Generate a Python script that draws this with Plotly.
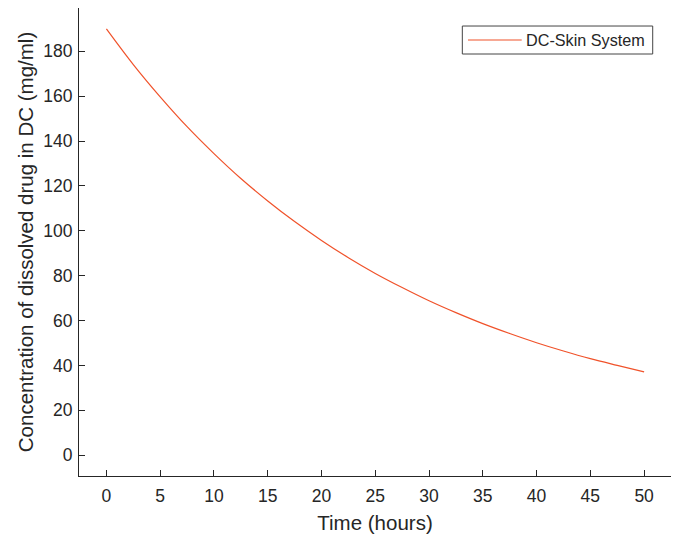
import plotly.graph_objects as go

# Concentration of dissolved drug in the DC over time
time_hours = [0, 2.5, 5, 7.5, 10, 12.5, 15, 17.5, 20, 22.5, 25,
              27.5, 30, 32.5, 35, 37.5, 40, 42.5, 45, 47.5, 50]
concentration = [190.0, 174.1, 159.7, 146.4, 134.4, 123.3, 113.3, 104.1, 95.7, 88.0, 81.0,
                 74.7, 68.8, 63.5, 58.6, 54.2, 50.1, 46.4, 43.0, 40.0, 37.1]
series_name = "DC-Skin System"

x_ticks = [0, 5, 10, 15, 20, 25, 30, 35, 40, 45, 50]
y_ticks = [0, 20, 40, 60, 80, 100, 120, 140, 160, 180]

axis_color = "#262626"
line_color = "#F0522A"
font_family = "Liberation Sans, Arial, Helvetica, sans-serif"

fig = go.Figure()
fig.add_trace(go.Scatter(
    x=time_hours, y=concentration,
    mode="lines", line=dict(color=line_color, width=1.2, shape="spline"),
    name=series_name, showlegend=False,
))

axis_common = dict(
    showline=True, linecolor=axis_color, linewidth=1,
    ticks="inside", ticklen=6, tickcolor=axis_color, tickwidth=1,
    showgrid=False, zeroline=False, mirror=False,
    tickfont=dict(family=font_family, size=17.5, color=axis_color),
)

# Boxed legend in the upper right corner, with a long sample line
legend_box = dict(x0=0.6475, x1=0.9691, y0=0.9017, y1=0.9615)
legend_line = dict(x0=0.6571, x1=0.7478, y=0.9316)

fig.update_layout(
    width=686, height=537,
    margin=dict(l=79, r=15, t=8, b=61),
    paper_bgcolor="white", plot_bgcolor="white",
    font=dict(family=font_family, color=axis_color),
    xaxis=dict(range=[-2.55, 52.5], tickvals=x_ticks, ticklabelstandoff=4,
               title=dict(text="Time (hours)", font=dict(size=20.5), standoff=10),
               **axis_common),
    yaxis=dict(range=[-9.3, 199.3], tickvals=y_ticks, ticklabelstandoff=2,
               title=dict(text="Concentration of dissolved drug in DC (mg/ml)",
                          font=dict(size=20.5), standoff=4),
               **axis_common),
    showlegend=False,
    shapes=[
        dict(type="rect", xref="paper", yref="paper",
             x0=legend_box["x0"], x1=legend_box["x1"],
             y0=legend_box["y0"], y1=legend_box["y1"],
             line=dict(color="#444444", width=1), fillcolor="white", layer="above"),
        dict(type="line", xref="paper", yref="paper",
             x0=legend_line["x0"], x1=legend_line["x1"],
             y0=legend_line["y"], y1=legend_line["y"],
             line=dict(color=line_color, width=1.2), layer="above"),
    ],
    annotations=[
        dict(text=series_name, xref="paper", yref="paper",
             x=0.7525, y=legend_line["y"], xanchor="left", yanchor="middle",
             showarrow=False, font=dict(family=font_family, size=16.2, color=axis_color)),
    ],
)

fig.write_html("out.html")
